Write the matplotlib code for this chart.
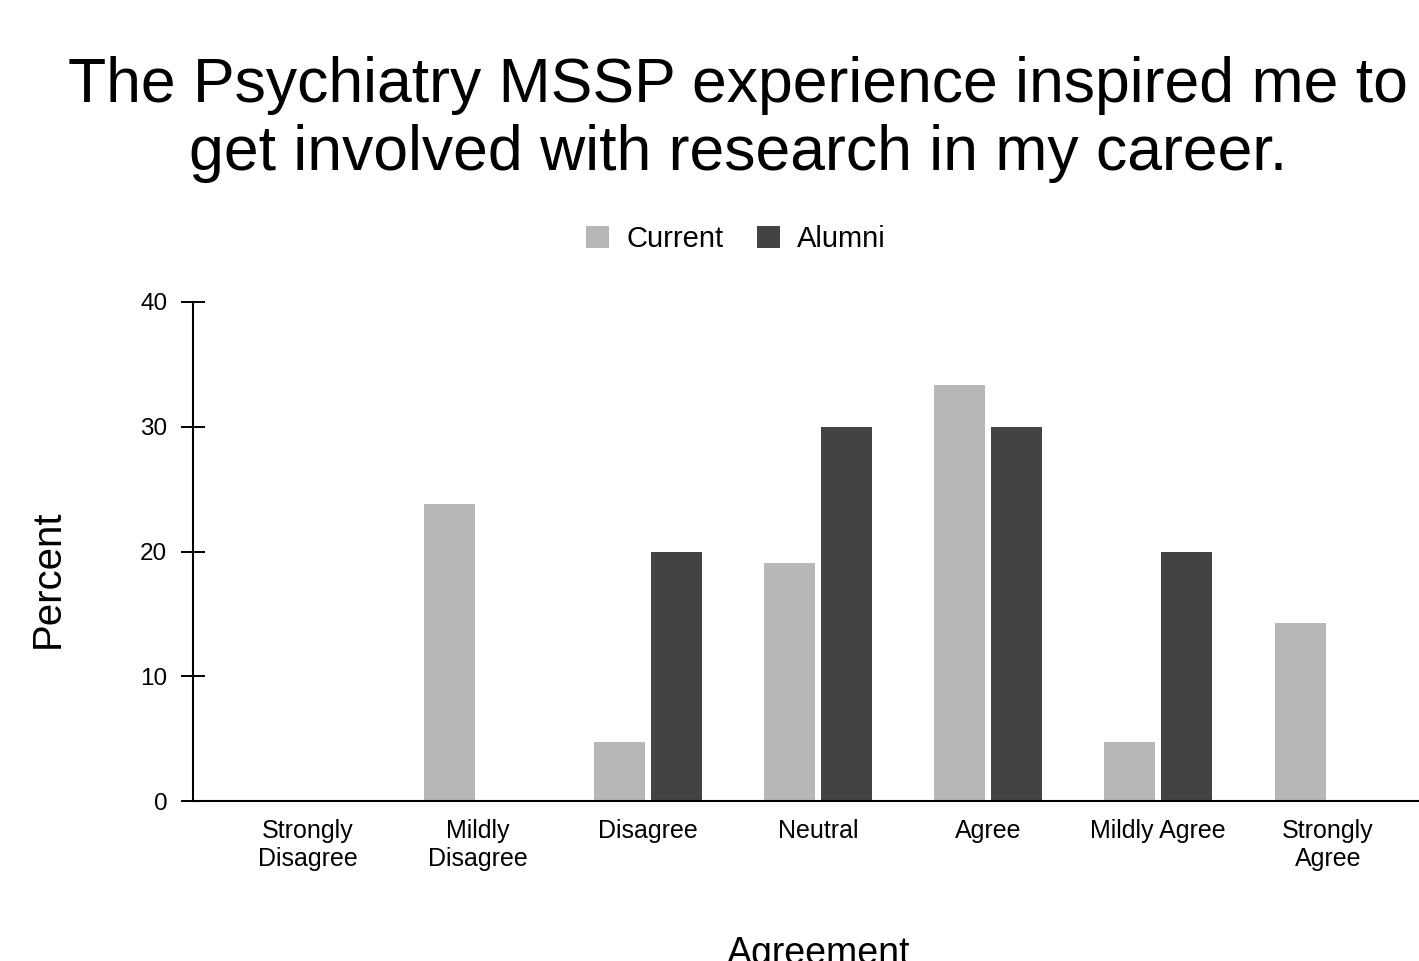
import matplotlib.pyplot as plt
import numpy as np

plt.rcParams['font.family'] = ['Liberation Sans', 'DejaVu Sans']

categories = ['Strongly\nDisagree', 'Mildly\nDisagree', 'Disagree', 'Neutral',
              'Agree', 'Mildly Agree', 'Strongly\nAgree']
current = [0, 23.8, 4.76, 19.05, 33.33, 4.76, 14.29]
alumni = [0, 0, 20, 30, 30, 20, 0]
yticks = [0, 10, 20, 30, 40]

W, H = 1419, 961
fig = plt.figure(figsize=(W / 100, H / 100), dpi=100)
ax = fig.add_axes([193 / W, 160 / H, 1250 / W, 499 / H])

x = np.arange(len(categories))
bw = 0.30
off = 0.165
ax.bar(x - off, current, bw, color='#b7b7b7', label='Current')
ax.bar(x + off, alumni, bw, color='#434343', label='Alumni')

ax.set_xlim(-0.676, 6.676)
ax.set_ylim(0, 40)
ax.set_yticks(yticks)
ax.set_xticks(x)
ax.set_xticklabels(categories, fontsize=18, linespacing=1.2)
ax.tick_params(axis='x', length=0, pad=13)
ax.tick_params(axis='y', direction='inout', length=17, width=1.4, pad=10, labelsize=17.5)

for s in ['top', 'right']:
    ax.spines[s].set_visible(False)
for s in ['left', 'bottom']:
    ax.spines[s].set_linewidth(1.5)
    ax.spines[s].set_color('black')

fig.text(738 / W, (H - 56) / H,
         'The Psychiatry MSSP experience inspired me to\nget involved with research in my career.',
         ha='center', va='top', fontsize=45, linespacing=1.2)

fig.legend(loc='center', bbox_to_anchor=(736 / W, (H - 239) / H), ncol=2,
           frameon=False, fontsize=21, handlelength=0.78, handleheight=0.78,
           handletextpad=0.6, columnspacing=1.15)

fig.text(48 / W, (H - 579) / H, 'Percent', rotation=90, ha='center', va='center', fontsize=29)
fig.text(819 / W, (H - 964) / H, 'Agreement', ha='center', va='baseline', fontsize=27)

fig.savefig('out.png', dpi=100)
